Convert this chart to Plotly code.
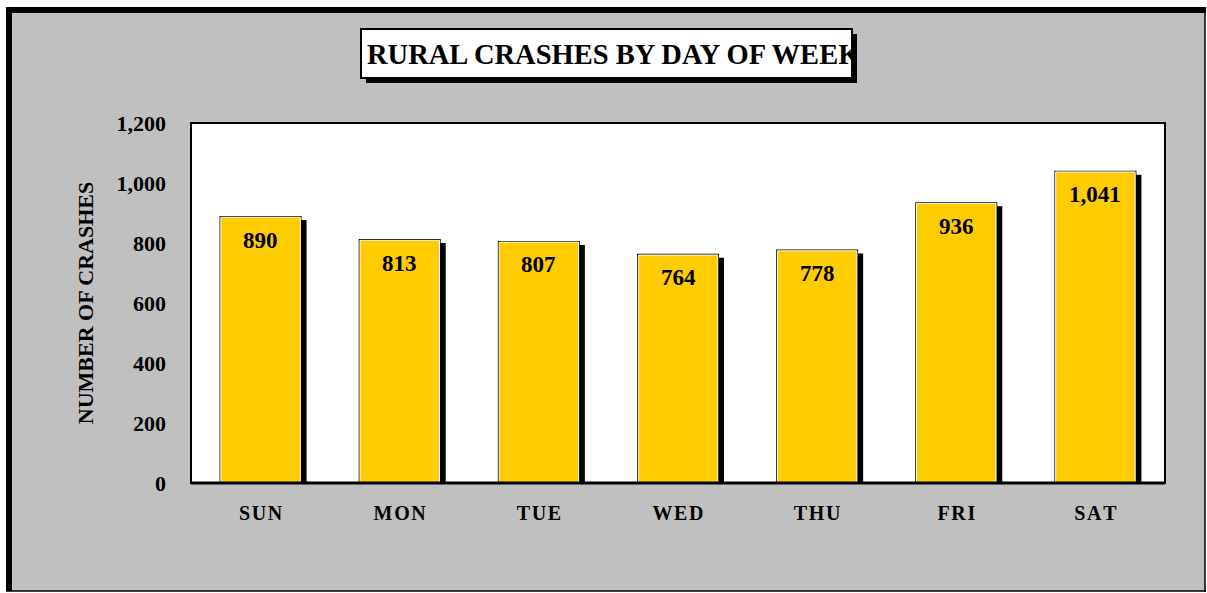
import plotly.graph_objects as go

days = ["SUN", "MON", "TUE", "WED", "THU", "FRI", "SAT"]
crashes = [890, 813, 807, 764, 778, 936, 1041]
labels = ["890", "813", "807", "764", "778", "936", "1,041"]
y_ticks = [0, 200, 400, 600, 800, 1000, 1200]
y_tick_labels = ["0", "200", "400", "600", "800", "1,000", "1,200"]
title_text = "RURAL CRASHES BY DAY OF WEEK"
y_title = "NUMBER OF CRASHES"

W, H = 1207, 593
ML, MR, MT, MB = 191, 42, 123, 110
PW, PH = W - ML - MR, H - MT - MB
YMAX = 1200
FONT = "Liberation Serif"

def px(x):
    return (x - ML) / PW

def py(y):
    return (H - MB - y) / PH

cat_px = PW / len(days)
bar_w = 82 / cat_px
unit_per_px = YMAX / PH

fig = go.Figure()
# shadow
fig.add_trace(go.Bar(
    x=days, y=[v - 4 * unit_per_px for v in crashes], width=bar_w,
    offset=-bar_w / 2 + 5 / cat_px,
    marker=dict(color="black", line=dict(width=0)), hoverinfo="skip", showlegend=False))
# outline
fig.add_trace(go.Bar(
    x=days, y=crashes, width=bar_w, offset=-bar_w / 2,
    marker=dict(color="black", line=dict(width=0)), hoverinfo="skip", showlegend=False))
# main bar
inner_w = (82 - 2.5) / cat_px
fig.add_trace(go.Bar(
    x=days, y=[v - 1.2 * unit_per_px for v in crashes], width=inner_w, offset=-inner_w / 2,
    marker=dict(color="#FFCC00", line=dict(color="white", width=1)),
    showlegend=False))

annotations = []
for d, v, lab in zip(days, crashes, labels):
    annotations.append(dict(x=d, y=v, text=f"<b>{lab}</b>", showarrow=False,
                            yshift=-24, xanchor="center", yanchor="middle",
                            font=dict(family=FONT, size=23, color="black")))
annotations.append(dict(xref="paper", yref="paper", x=px(366), y=py(54),
                        text=f"<b>{title_text}</b>", showarrow=False,
                        xanchor="left", yanchor="middle", align="left",
                        width=485, borderpad=0,
                        font=dict(family=FONT, size=28.5, color="black")))

shapes = [
    # gray panel
    dict(type="rect", xref="paper", yref="paper", x0=px(12), x1=px(1205), y0=py(591), y1=py(13),
         fillcolor="#C0C0C0", line=dict(width=0), layer="below"),
    # thick left / top
    dict(type="rect", xref="paper", yref="paper", x0=px(6), x1=px(12), y0=py(591), y1=py(7),
         fillcolor="black", line=dict(width=0), layer="below"),
    dict(type="rect", xref="paper", yref="paper", x0=px(6), x1=px(1206), y0=py(13), y1=py(7),
         fillcolor="black", line=dict(width=0), layer="below"),
    # thin right / bottom
    dict(type="line", xref="paper", yref="paper", x0=px(1205), x1=px(1205), y0=py(592), y1=py(7),
         line=dict(color="black", width=1.5), layer="below"),
    dict(type="line", xref="paper", yref="paper", x0=px(6), x1=px(1206), y0=py(591), y1=py(591),
         line=dict(color="black", width=1.5), layer="below"),
    # plot area white with border
    dict(type="rect", xref="paper", yref="paper", x0=0, x1=1, y0=0, y1=1,
         fillcolor="white", line=dict(width=0), layer="below"),
    dict(type="rect", xref="paper", yref="paper", x0=0, x1=1, y0=0, y1=1,
         fillcolor="rgba(0,0,0,0)", line=dict(color="black", width=2), layer="above"),
    dict(type="line", xref="paper", yref="paper", x0=0, x1=1, y0=0, y1=0,
         line=dict(color="black", width=3), layer="above"),
    # title shadow and box
    dict(type="rect", xref="paper", yref="paper", x0=px(366), x1=px(857), y0=py(83), y1=py(34),
         fillcolor="black", line=dict(width=0), layer="above"),
    dict(type="rect", xref="paper", yref="paper", x0=px(361), x1=px(852), y0=py(78), y1=py(29),
         fillcolor="white", line=dict(color="black", width=2), layer="above"),
]

spaced = ["\u200a".join(list(d)) for d in days]

fig.update_layout(
    width=W, height=H,
    margin=dict(l=ML, r=MR, t=MT, b=MB, pad=0),
    paper_bgcolor="white", plot_bgcolor="rgba(0,0,0,0)",
    barmode="overlay",
    showlegend=False,
    annotations=annotations,
    shapes=shapes,
    xaxis=dict(
        tickmode="array", tickvals=days,
        ticktext=[f"<b>{s}</b>" for s in spaced],
        tickfont=dict(family=FONT, size=20, color="black"),
        showgrid=False, zeroline=False, showline=False,
        ticks="", ticklabelstandoff=16,
        range=[-0.5, len(days) - 0.5],
    ),
    yaxis=dict(
        range=[0, YMAX],
        tickvals=y_ticks,
        ticktext=[f"<b>{t}</b>" for t in y_tick_labels],
        tickfont=dict(family=FONT, size=22, color="black"),
        showgrid=False, zeroline=False, showline=False,
        ticks="", ticklabelstandoff=24,
        title=dict(text=f"<b>{y_title}</b>", font=dict(family=FONT, size=22, color="black"),
                   standoff=16),
    ),
)

fig.write_html("out.html", config={"displayModeBar": False},
               post_script="document.body.style.margin='0';")
